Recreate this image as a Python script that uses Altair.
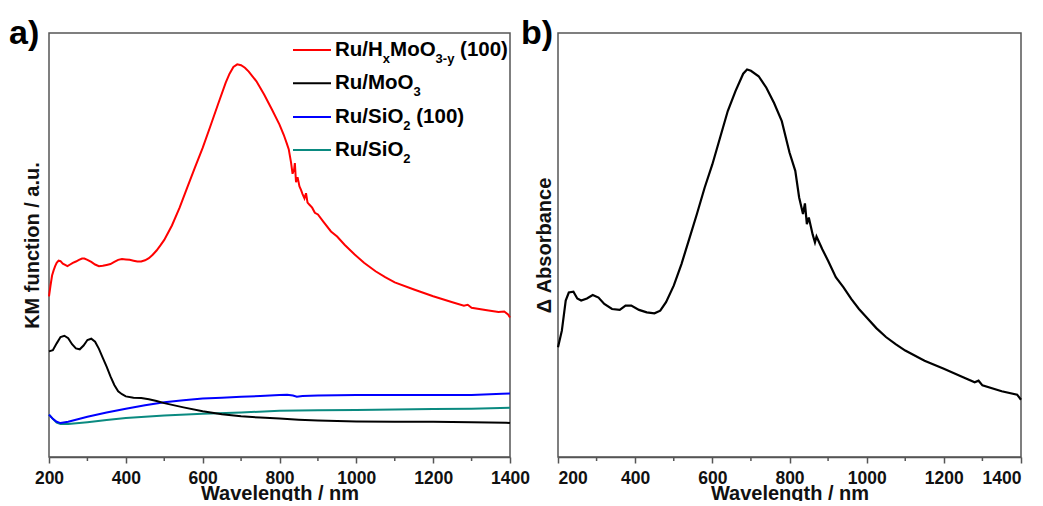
import altair as alt
import pandas as pd

FONT = "Liberation Sans"

# ---------------- panel a data (KM function, arbitrary units 0-100) ----------------
wl_red = [200, 204, 208, 212, 216, 220, 225, 230, 236, 242, 248, 255, 262, 270, 278, 286, 292, 300,
          310, 320, 330, 340, 350, 360, 370, 380, 390, 400, 410, 420, 430, 440, 450, 460, 470, 480,
          490, 500, 520, 540, 560, 580, 600, 620, 640, 660, 670, 680, 690, 700, 710, 720, 740, 760,
          780, 800, 811, 818, 824, 830, 834, 838, 840, 843, 847, 852, 856, 860, 865, 869, 873, 878,
          885, 892, 900, 915, 934, 950, 970, 995, 1020, 1050, 1075, 1100, 1150, 1200, 1250, 1280,
          1290, 1300, 1340, 1370, 1385, 1395, 1400]
km_red = [37.9, 40.5, 42.8, 44.0, 45.0, 45.8, 46.3, 46.2, 45.6, 45.3, 45.0, 45.4, 45.8, 46.1, 46.5,
          46.8, 46.8, 46.5, 46.0, 45.4, 45.0, 45.1, 45.3, 45.5, 46.0, 46.5, 46.7, 46.6, 46.5, 46.3,
          46.1, 46.1, 46.4, 46.9, 47.7, 48.7, 49.9, 51.2, 54.6, 58.8, 63.6, 68.3, 72.9, 78.0, 83.2,
          88.3, 90.4, 92.0, 92.6, 92.4, 91.8, 90.9, 88.6, 85.5, 82.0, 78.4, 76.0, 74.2, 72.6, 69.5,
          66.8, 67.8, 69.3, 64.8, 66.0, 63.8, 63.0, 62.0, 61.0, 62.2, 60.0, 59.5, 58.8, 57.6, 57.2,
          55.4, 53.2, 52.0, 50.0, 47.8, 45.8, 43.8, 42.4, 41.2, 39.5, 37.9, 36.5, 35.7, 35.9, 35.2,
          34.6, 34.2, 34.3, 33.6, 32.9]

wl_black = [200, 210, 220, 230, 240, 250, 260, 270, 280, 290, 300, 310, 320, 330, 340, 350, 360, 370,
            380, 390, 400, 420, 440, 460, 480, 500, 550, 600, 650, 700, 750, 800, 850, 900, 1000,
            1100, 1200, 1300, 1390, 1400]
km_black = [24.9, 25.2, 26.8, 28.3, 28.6, 28.0, 26.6, 25.6, 25.4, 26.3, 27.6, 27.9, 27.2, 25.5, 23.4,
            21.3, 19.0, 17.0, 15.5, 14.8, 14.3, 14.0, 13.9, 13.6, 13.2, 12.7, 11.7, 10.8, 10.1, 9.6,
            9.3, 9.1, 8.8, 8.6, 8.4, 8.3, 8.3, 8.2, 8.1, 8.0]

wl_blue = [200, 210, 220, 230, 250, 300, 350, 400, 450, 500, 550, 600, 650, 700, 750, 800, 820, 835,
           845, 860, 900, 1000, 1100, 1200, 1300, 1380, 1400]
km_blue = [10.0, 9.0, 8.3, 8.0, 8.3, 9.5, 10.5, 11.4, 12.2, 12.9, 13.4, 13.8, 14.0, 14.2, 14.4, 14.6,
           14.7, 14.5, 14.2, 14.4, 14.5, 14.6, 14.6, 14.6, 14.6, 14.9, 15.0]

wl_teal = [200, 210, 220, 230, 250, 300, 350, 400, 450, 500, 600, 700, 800, 900, 1000, 1100, 1200,
           1300, 1400]
km_teal = [10.0, 9.0, 8.1, 7.8, 7.8, 8.2, 8.7, 9.2, 9.5, 9.8, 10.2, 10.5, 10.9, 11.0, 11.1, 11.2,
           11.3, 11.4, 11.6]

# ---------------- panel b data (delta absorbance, arbitrary units 0-100) ----------------
wl_b = [200, 210, 220, 228, 240, 250, 260, 275, 290, 305, 320, 340, 360, 375, 390, 410, 430, 450,
        465, 480, 500, 520, 540, 560, 580, 600, 620, 640, 660, 680, 690, 700, 720, 740, 760, 780,
        800, 815, 825, 835, 840, 845, 850, 860, 866, 870, 875, 885, 900, 920, 940, 960, 980, 1000,
        1025, 1050, 1075, 1100, 1150, 1200, 1250, 1280, 1290, 1300, 1350, 1390, 1400]
abs_b = [25.9, 29.8, 36.9, 38.8, 39.0, 37.4, 36.9, 37.4, 38.2, 37.6, 36.1, 34.9, 34.7, 35.7, 35.7,
         34.7, 34.1, 33.9, 34.5, 36.5, 40.4, 45.5, 51.4, 57.3, 63.5, 69.0, 75.3, 81.6, 86.3, 90.4,
         91.4, 91.1, 89.8, 87.1, 83.5, 79.2, 71.8, 67.5, 61.2, 57.3, 59.8, 54.9, 56.5, 52.5, 50.6,
         52.0, 51.0, 49.0, 46.3, 42.4, 40.0, 37.3, 34.9, 32.9, 30.4, 28.3, 26.6, 25.1, 22.7, 20.8,
         18.8, 17.6, 18.0, 16.9, 15.5, 14.7, 13.5]

series_names = ["Ru/HxMoO3-y (100)", "Ru/MoO3", "Ru/SiO2 (100)", "Ru/SiO2"]
series_colors = ["#ff0000", "#000000", "#0000ff", "#0a8a80"]
x_ticks = [200, 400, 600, 800, 1000, 1200, 1400]
x_minor = [300, 500, 700, 900, 1100, 1300]

# legend pieces: (text, is_subscript)
legend_pieces = [
    [("Ru/H", False), ("x", True), ("MoO", False), ("3-y", True), (" (100)", False)],
    [("Ru/MoO", False), ("3", True)],
    [("Ru/SiO", False), ("2", True), (" (100)", False)],
    [("Ru/SiO", False), ("2", True)],
]

# ---------------- layout constants ----------------
W_A, W_B, H = 461, 463, 424
FRAME = "#555555"
MAIN_FS, SUB_FS = 20.5, 13

ARIAL_BOLD = {"R": 722, "u": 611, "/": 278, "H": 722, "x": 556, "M": 833, "o": 611, "O": 778,
              "3": 556, "-": 333, "y": 556, " ": 278, "(": 333, ")": 333, "1": 556, "0": 556,
              "S": 667, "i": 278, "2": 556}


def text_width(s, fs):
    return sum(ARIAL_BOLD.get(c, 556) for c in s) / 1000.0 * fs


rows = []
for name, wl, vals in [(series_names[3], wl_teal, km_teal), (series_names[2], wl_blue, km_blue),
                       (series_names[1], wl_black, km_black), (series_names[0], wl_red, km_red)]:
    for w, v in zip(wl, vals):
        rows.append({"series": name, "wl": w, "v": v})
df_a = pd.DataFrame(rows)
df_b = pd.DataFrame({"wl": wl_b, "v": abs_b})
df_minor = pd.DataFrame({"wl": x_minor})


def x_enc(flush):
    return alt.X("wl:Q",
                 scale=alt.Scale(domain=[200, 1400], nice=False, zero=False),
                 axis=alt.Axis(values=x_ticks, format="d", title="Wavelength / nm",
                               grid=False, tickSize=6, labelPadding=6, titlePadding=-3,
                               labelFlush=flush, labelOverlap=False, labelBound=False))


def y_enc(title, pad):
    return alt.Y("v:Q", scale=alt.Scale(domain=[0, 100], nice=False, zero=False),
                 axis=alt.Axis(labels=False, ticks=False, domain=False, grid=False,
                               title=title, titlePadding=pad))


def minor_ticks():
    return alt.Chart(df_minor).mark_rule(color=FRAME, strokeWidth=1.5).encode(
        x="wl:Q", y=alt.value(H), y2=alt.value(H + 4))


def panel_label(txt, dx):
    return alt.Chart(pd.DataFrame({"t": [txt]})).mark_text(
        align="left", baseline="alphabetic", font=FONT, fontWeight="bold", fontSize=34,
        color="black").encode(text="t:N", x=alt.value(dx), y=alt.value(11))


lines_a = alt.Chart(df_a).mark_line(strokeWidth=2).encode(
    x=x_enc(False), y=y_enc("KM function / a.u.", 7),
    color=alt.Color("series:N", scale=alt.Scale(domain=series_names, range=series_colors),
                    legend=None),
    order=alt.value(0),
)

legend_layers = []
leg_line_x0, leg_line_x1, leg_text_x = 244, 282, 286
leg_ys = [17, 50.3, 84, 117]
for i, pieces in enumerate(legend_pieces):
    ly = leg_ys[i]
    legend_layers.append(
        alt.Chart(pd.DataFrame({"s": [series_names[i]]})).mark_rule(
            strokeWidth=2, color=series_colors[i]).encode(
            x=alt.value(leg_line_x0), x2=alt.value(leg_line_x1), y=alt.value(ly)))
    cx = leg_text_x
    for txt, sub in pieces:
        t = txt.strip()
        lead = text_width(txt[: len(txt) - len(txt.lstrip())], MAIN_FS)
        fs = SUB_FS if sub else MAIN_FS
        legend_layers.append(
            alt.Chart(pd.DataFrame({"t": [t]})).mark_text(
                align="left", baseline="alphabetic" if sub else "middle", font=FONT,
                fontWeight="bold", fontSize=fs, color="black").encode(
                text="t:N", x=alt.value(cx + lead), y=alt.value(ly + 13 if sub else ly)))
        cx += lead + text_width(t, fs)

panel_a = alt.layer(lines_a, minor_ticks(), panel_label("a)", -40), *legend_layers).properties(
    width=W_A, height=H)

lines_b = alt.Chart(df_b).mark_line(strokeWidth=2.2, color="black").encode(
    x=x_enc(True), y=y_enc("Δ Absorbance", 4))

panel_b = alt.layer(lines_b, minor_ticks(), panel_label("b)", -37)).properties(width=W_B, height=H)

chart = alt.hconcat(panel_a, panel_b, spacing=48, bounds="flush").configure(
    padding={"left": 0, "top": 8, "right": 0, "bottom": -4.5},
    font=FONT,
).configure_view(
    stroke=FRAME, strokeWidth=1.5
).configure_axis(
    labelFont=FONT, labelFontSize=17.5, labelFontWeight="bold", labelColor="#111111",
    titleFont=FONT, titleFontSize=20, titleFontWeight="bold", titleColor="#111111",
    domainColor=FRAME, domainWidth=1.5, tickColor=FRAME, tickWidth=1.5,
)

chart.save("out.html", embed_options={"renderer": "svg", "actions": False})
